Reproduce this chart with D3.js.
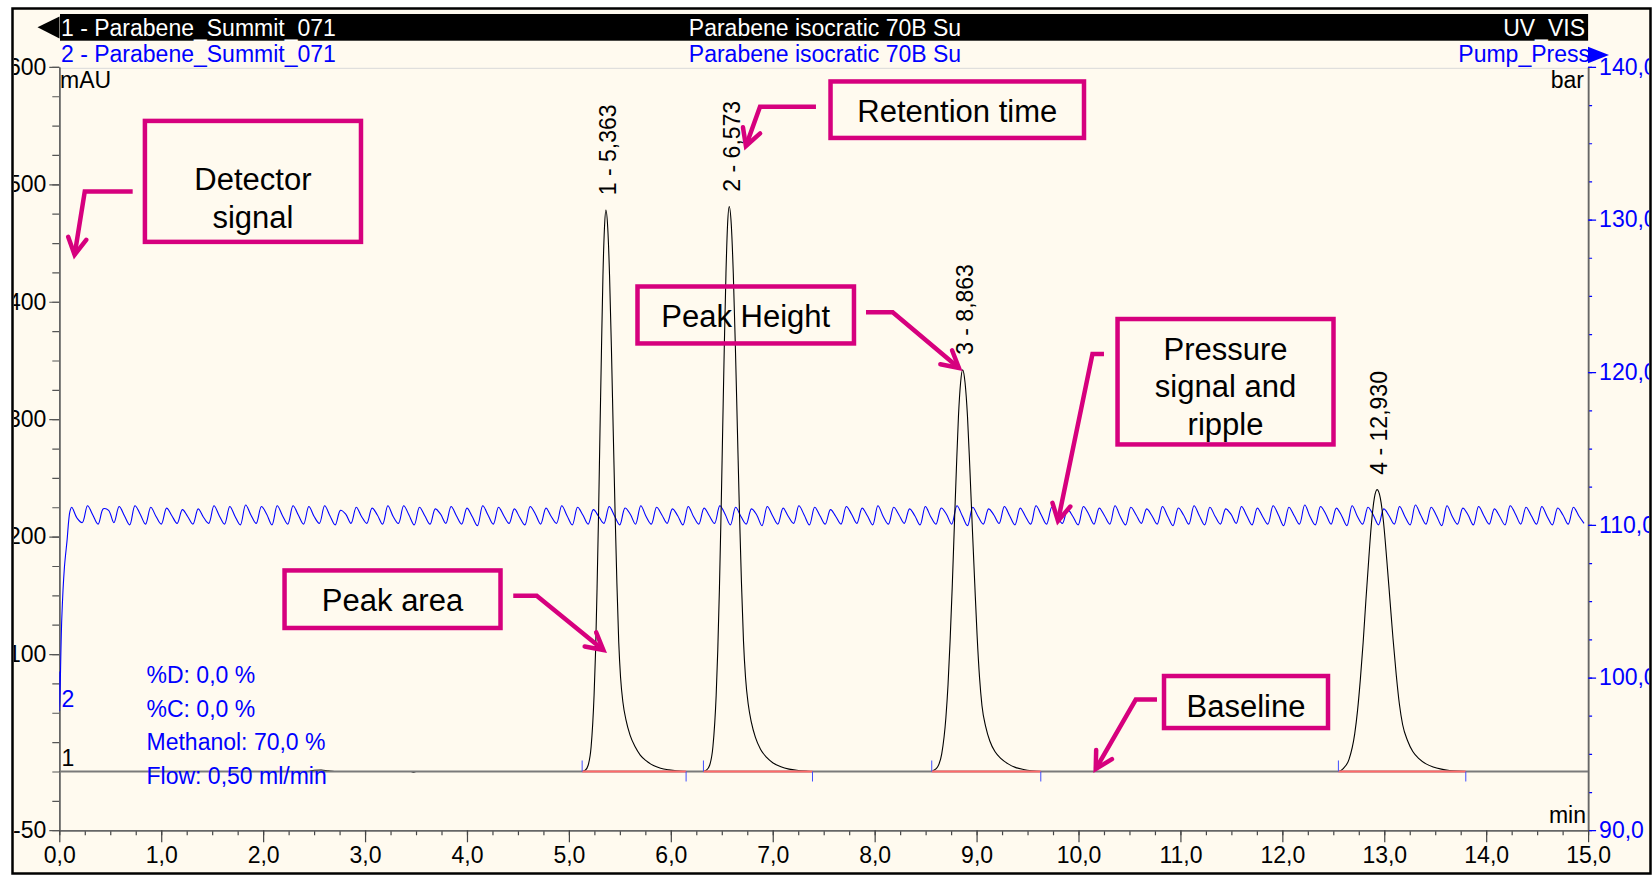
<!DOCTYPE html>
<html>
<head>
<meta charset="utf-8">
<script src="https://cdn.jsdelivr.net/npm/d3@7"></script>
<style>
  body { margin: 0; background: #fff; }
  text { font-family: "Liberation Sans", Arial, Helvetica, sans-serif; }
</style>
</head>
<body>
<svg id="chart" width="1652" height="875"></svg>
<script>
/* ---- data ---- */

// header rows (channel 1 = UV, channel 2 = pump pressure)
var headerLeft  = ["1 - Parabene_Summit_071", "2 - Parabene_Summit_071"];
var headerMid   = ["Parabene isocratic 70B Su", "Parabene isocratic 70B Su"];
var headerRight = ["UV_VIS", "Pump_Press"];

// axis ticks
var timeTicks = [0,1,2,3,4,5,6,7,8,9,10,11,12,13,14,15];
var mAUTicks  = [-50,100,200,300,400,500,600];
var barTicks  = [90,100,110,120,130,140];

// integrated peaks
var peakNo    = [1, 2, 3, 4];
var peakRT    = [5.363, 6.573, 8.863, 12.930];
var peakStart = [5.13, 6.32, 8.56, 12.55];
var peakEnd   = [6.15, 7.39, 9.63, 13.80];

// detector signal, [min, mAU]
var baseTrace = [[0,0],[2.44,0],[2.50,1.0],[2.57,1.3],[2.64,0.5],[2.70,0],[3.45,0],[3.47,-0.7],[3.50,0],[5.10,0]];
var peak1Trace = [[5.13,0],[5.160,1.0],[5.189,5.3],[5.218,21],[5.247,65],[5.262,103],[5.276,155],[5.291,219],[5.305,290],
  [5.320,361],[5.334,422],[5.349,463],[5.363,478],[5.381,463],[5.399,422],[5.417,361],[5.435,290],[5.453,221],[5.471,160],
  [5.489,110],[5.507,80],[5.53,59],[5.56,44],[5.60,31],[5.65,21],[5.70,14],[5.76,9],[5.83,5],[5.90,2.8],[5.98,1.4],[6.06,0.5],[6.15,0]];
var peak2Trace = [[6.32,0],[6.349,1.1],[6.381,5.3],[6.413,21],[6.445,65],[6.461,104],[6.477,156],[6.493,220],[6.509,292],
  [6.525,363],[6.541,424],[6.557,466],[6.573,481],[6.593,466],[6.613,424],[6.633,363],[6.653,292],[6.673,222],[6.693,161],
  [6.713,111],[6.733,80],[6.76,57],[6.79,42],[6.83,29],[6.88,19],[6.94,12],[7.00,7.5],[7.08,4],[7.16,2],[7.25,0.9],[7.33,0.3],[7.39,0]];
var peak3Trace = [[8.56,0],[8.576,0.8],[8.617,3.8],[8.658,15],[8.699,46],[8.720,74],[8.740,111],[8.761,157],[8.781,207],
  [8.802,258],[8.822,302],[8.843,331],[8.863,342],[8.887,331],[8.911,302],[8.934,258],[8.958,208],[8.982,160],[9.005,116],
  [9.029,80],[9.053,56],[9.09,38],[9.13,26],[9.18,17],[9.24,11],[9.31,6.5],[9.38,3.5],[9.46,1.7],[9.54,0.6],[9.63,0]];
var peak4Trace = [[12.55,0],[12.60,2.7],[12.655,10.5],[12.710,32],[12.738,52],[12.765,78],[12.793,110],[12.820,146],[12.848,181],
  [12.875,212],[12.903,233],[12.930,240],[12.961,233],[12.993,212],[13.024,181],[13.055,147],[13.086,113],[13.118,82],[13.149,57],
  [13.180,40],[13.23,26],[13.28,17],[13.34,11],[13.41,6.5],[13.48,3.8],[13.56,2],[13.64,0.9],[13.72,0.3],[13.80,0]];
var endTrace = [[15,0]];

// pump pressure, [min, bar] start-up, then ripple sampled every rippleStep min
var pressureRamp = [[0,100.4],[0.003,97.8],[0.024,103.8],[0.05,107.2],[0.075,108.9],[0.105,110.9]];
var rippleStart = 0.122, rippleStep = 0.0517;
var ripple = [
  111.15,110.45,110.15, 111.25,110.65,110.05, 111.05,110.95,110.15, 111.20,110.60,110.00,
  111.25,110.70,110.05, 111.15,110.55,110.05, 111.10,110.60,110.10, 111.00,110.55,110.05,
  111.05,110.50,110.10, 111.25,110.60,110.05, 111.20,110.55,110.00, 111.30,110.65,110.10,
  111.20,110.70,110.00, 111.25,110.60,110.05, 111.25,110.65,110.05, 111.20,110.55,110.10,
  111.25,110.60,110.00, 110.95,110.70,110.10, 111.15,110.55,110.10, 111.10,110.65,110.05,
  111.25,110.55,110.10, 111.25,110.65,110.00, 111.15,110.60,110.05, 111.05,110.70,110.10,
  111.20,110.60,110.05, 111.10,110.55,109.95, 111.25,110.65,110.05, 111.15,110.60,110.10,
  111.05,110.50,110.00, 111.20,110.70,110.05, 111.10,110.55,110.10, 111.25,110.60,110.00,
  111.15,110.65,110.05, 111.00,110.55,110.10, 111.20,110.60,110.00, 111.10,110.70,110.05,
  111.25,110.55,110.05, 111.15,110.65,110.10, 111.05,110.60,110.00, 111.20,110.55,110.05,
  111.10,110.60,110.10, 111.25,110.70,110.00, 111.15,110.55,110.05, 111.05,110.65,109.95,
  111.20,110.60,110.05, 111.10,110.55,110.10, 111.25,110.65,110.00, 111.15,110.60,110.05,
  111.00,110.55,110.05, 111.20,110.70,110.10, 111.10,110.60,110.00, 111.25,110.55,110.05,
  111.15,110.65,110.10, 111.05,110.60,110.00, 111.20,110.55,110.05, 111.10,110.70,110.05,
  111.25,110.60,109.95, 111.15,110.55,110.05, 111.05,110.65,110.10, 111.20,110.60,110.00,
  111.10,110.55,110.05, 111.25,110.65,110.05, 111.15,110.60,110.10, 111.00,110.55,110.00,
  111.20,110.70,110.05, 111.10,110.60,110.05, 111.25,110.55,110.00, 111.15,110.65,110.10,
  111.05,110.60,110.05, 111.20,110.55,109.95, 111.10,110.65,110.05, 111.25,110.60,110.00,
  111.15,110.55,110.05, 111.05,110.70,110.10, 111.20,110.60,110.00, 111.10,110.55,110.05,
  111.25,110.65,109.95, 111.15,110.60,110.05, 111.30,110.55,110.00, 111.20,110.70,110.05,
  111.10,110.60,109.95, 111.25,110.55,110.05, 111.15,110.65,110.00, 111.05,110.60,110.05,
  111.20,110.55,110.00, 111.30,110.65,110.05, 111.15,110.60,109.95, 111.25,110.55,110.05,
  111.10,110.65,110.00, 111.20,110.60,110.05, 111.05,110.55,110.00, 111.25,110.70,110.05,
  111.15,110.60,110.05, 111.20,110.55,110.00, 111.10,110.65,110.05, 111.15,110.60,110.10
];

// method info printed in the plot
var methodText = ["%D: 0,0 %", "%C: 0,0 %", "Methanol: 70,0 %", "Flow: 0,50 ml/min"];

/* ---- layout ---- */
var W = 1652, H = 875;
var frame = {x0: 12.5, y0: 8.5, x1: 1650.5, y1: 873.5};
var plot = {x0: 59.3, x1: 1588.1, y0: 66.9, y1: 830.2};
var bg = "#fffaef", magenta = "#d6007e", blue = "#0000ff";

// annotation boxes, in data units (min, mAU)
var notes = [
  {lines: ["Detector", "signal"], box: [0.84, 554, 2.96, 451], base: [495, 463], arrow: [[0.72,494],[0.25,494],[0.15,440]]},
  {lines: ["Retention time"], box: [7.567, 587.6, 10.054, 539.5], base: [553.4], arrow: [[7.424,566.1],[6.875,566.1],[6.737,532.6]]},
  {lines: ["Peak Height"], box: [5.673, 413.0, 7.797, 364.5], base: [378.8], arrow: [[7.915,391.0],[8.177,391.0],[8.827,343.6]]},
  {lines: ["Pressure", "signal and", "ripple"], box: [10.383, 385.3, 12.502, 278.5], base: [350.5, 318.5, 286.6], arrow: [[10.25,355.5],[10.137,355.5],[9.799,213.3]]},
  {lines: ["Peak area"], box: [2.21, 171.2, 4.329, 122.2], base: [136.7], arrow: [[4.454,149.7],[4.684,149.7],[5.338,103.5]]},
  {lines: ["Baseline"], box: [10.839, 81.3, 12.448, 37.0], base: [46.8], arrow: [[10.77,61.2],[10.562,61.2],[10.169,2.1]]}
];

var svg = d3.select("#chart");

var x = d3.scaleLinear().domain([0, 15]).range([plot.x0, plot.x1]);
var y = d3.scaleLinear().domain([-50, 600]).range([plot.y1, plot.y0]);
var yP = d3.scaleLinear().domain([90, 140]).range([plot.y1, plot.y0]);
var fmt1 = function(d){ return d3.format(".1f")(d).replace(".", ","); };
var fmt3 = function(d){ return d3.format(".3f")(d).replace(".", ","); };

/* background and frame */
svg.append("rect").attr("width", W).attr("height", H).attr("fill", "#fff");
svg.append("rect")
  .attr("x", frame.x0).attr("y", frame.y0)
  .attr("width", frame.x1 - frame.x0).attr("height", frame.y1 - frame.y0)
  .attr("fill", bg).attr("stroke", "#000").attr("stroke-width", 2.5);

var defs = svg.append("defs");
defs.append("clipPath").attr("id", "clipPlot").append("rect")
  .attr("x", plot.x0).attr("y", 68).attr("width", plot.x1 - plot.x0).attr("height", plot.y1 - 68);
defs.append("clipPath").attr("id", "clipFrame").append("rect")
  .attr("x", frame.x0 + 1.3).attr("y", frame.y0 + 1.3)
  .attr("width", frame.x1 - frame.x0 - 2.6).attr("height", frame.y1 - frame.y0 - 2.6);

/* header */
var head = svg.append("g").style("font-size", "23px");
head.append("rect").attr("x", 60).attr("y", 14).attr("width", plot.x1 - 60).attr("height", 26.7).attr("fill", "#000");
head.append("path").attr("d", "M37.5,27.3L59.5,16.5L59.5,38.5Z").attr("fill", "#000");
head.append("path").attr("d", "M1588,46.7L1609,55L1588,63.3Z").attr("fill", blue);
var rowBase = [36, 62], rowCol = ["#fff", blue];
[0, 1].forEach(function(i){
  head.append("text").attr("x", 61).attr("y", rowBase[i]).attr("fill", rowCol[i]).text(headerLeft[i]);
  head.append("text").attr("x", 825).attr("y", rowBase[i]).attr("fill", rowCol[i]).attr("text-anchor", "middle").text(headerMid[i]);
  head.append("text").attr("x", i ? 1590 : 1585).attr("y", rowBase[i]).attr("fill", rowCol[i]).attr("text-anchor", "end").text(headerRight[i]);
});
svg.append("line").attr("x1", plot.x0).attr("x2", plot.x1).attr("y1", 68.3).attr("y2", 68.3)
  .attr("stroke", "#d9d9d9").attr("stroke-width", 1);

/* axes */
function styleAxis(g, lineCol, textCol){
  g.attr("font-family", null).attr("font-size", null);
  g.selectAll("path.domain").attr("stroke", "#666").attr("stroke-width", 1.5);
  g.selectAll(".tick line").attr("stroke", lineCol).attr("stroke-width", 1.2);
  g.selectAll(".tick text").attr("fill", textCol).style("font-size", "23px");
}

var axes = svg.append("g").attr("clip-path", "url(#clipFrame)");

axes.append("g").attr("transform", "translate(" + plot.x0 + ",0)")
  .call(d3.axisLeft(y).tickValues(d3.range(-50, 601, 25)).tickSize(7).tickSizeOuter(0).tickFormat(""))
  .call(styleAxis, "#555", "#000");
axes.append("g").attr("transform", "translate(" + plot.x0 + ",0)")
  .call(d3.axisLeft(y).tickValues(mAUTicks).tickSize(10).tickSizeOuter(0).tickPadding(3).tickFormat(function(d){ return d; }))
  .call(styleAxis, "#555", "#000");

axes.append("g").attr("transform", "translate(" + plot.x1 + ",0)")
  .call(d3.axisRight(yP).tickValues(d3.range(90, 140.1, 2.5)).tickSize(4).tickSizeOuter(0).tickFormat(""))
  .call(styleAxis, blue, blue);
axes.append("g").attr("transform", "translate(" + plot.x1 + ",0)")
  .call(d3.axisRight(yP).tickValues(barTicks).tickSize(8).tickSizeOuter(0).tickPadding(3).tickFormat(fmt1))
  .call(styleAxis, blue, blue);

axes.append("g").attr("transform", "translate(0," + plot.y1 + ")")
  .call(d3.axisBottom(x).tickValues(d3.range(0, 15.01, 0.25)).tickSize(5).tickSizeOuter(0).tickFormat(""))
  .call(styleAxis, "#444", "#000");
axes.append("g").attr("transform", "translate(0," + plot.y1 + ")")
  .call(d3.axisBottom(x).tickValues(timeTicks).tickSize(12).tickSizeOuter(0).tickPadding(4).tickFormat(fmt1))
  .call(styleAxis, "#444", "#000");

var units = svg.append("g").style("font-size", "23px");
units.append("text").attr("x", 60).attr("y", 88).text("mAU");
units.append("text").attr("x", 1584).attr("y", 88).attr("text-anchor", "end").text("bar");
units.append("text").attr("x", 1586).attr("y", 823).attr("text-anchor", "end").text("min");

/* traces */
var traces = svg.append("g").attr("clip-path", "url(#clipPlot)");

var pressure = pressureRamp.concat(ripple.map(function(v, i){ return [rippleStart + i * rippleStep, v]; }));
traces.append("path").datum(pressure)
  .attr("fill", "none").attr("stroke", blue).attr("stroke-width", 1.1)
  .attr("d", d3.line().x(function(d){ return x(d[0]); }).y(function(d){ return yP(d[1]); }).curve(d3.curveCatmullRom));

var signal = baseTrace.concat(peak1Trace, peak2Trace, peak3Trace, peak4Trace, endTrace);
traces.append("path").datum(signal)
  .attr("fill", "none").attr("stroke", "#000").attr("stroke-width", 1.1)
  .attr("d", d3.line().x(function(d){ return x(d[0]); }).y(function(d){ return y(d[1]); }).curve(d3.curveMonotoneX));

// zero line and integration baselines
traces.append("line").attr("x1", x(0)).attr("x2", x(15)).attr("y1", y(0)).attr("y2", y(0))
  .attr("stroke", "#7a7a7a").attr("stroke-width", 2);
traces.selectAll(".intBase").data(peakNo).enter().append("line")
  .attr("x1", function(d, i){ return x(peakStart[i]); }).attr("x2", function(d, i){ return x(peakEnd[i]); })
  .attr("y1", y(0)).attr("y2", y(0))
  .attr("stroke", "#ff6a6a").attr("stroke-width", 2);
traces.selectAll(".startTick").data(peakNo).enter().append("line")
  .attr("x1", function(d, i){ return x(peakStart[i]); }).attr("x2", function(d, i){ return x(peakStart[i]); })
  .attr("y1", y(0) - 11).attr("y2", y(0))
  .attr("stroke", "#3f4dff").attr("stroke-width", 1);
traces.selectAll(".endTick").data(peakNo).enter().append("line")
  .attr("x1", function(d, i){ return x(peakEnd[i]); }).attr("x2", function(d, i){ return x(peakEnd[i]); })
  .attr("y1", y(0)).attr("y2", y(0) + 10)
  .attr("stroke", "#3f4dff").attr("stroke-width", 1);

// peak labels
var apex = [peak1Trace, peak2Trace, peak3Trace, peak4Trace].map(function(t){ return d3.max(t, function(d){ return d[1]; }); });
svg.append("g").selectAll("text").data(peakNo).enter().append("text")
  .attr("transform", function(d, i){ return "translate(" + x(peakRT[i]) + "," + (y(apex[i]) - 15) + ") rotate(-90)"; })
  .attr("dy", "0.45em")
  .style("font-size", "23px")
  .text(function(d, i){ return d + " - " + fmt3(peakRT[i]); });

// channel numbers and method text
svg.append("text").attr("x", 61.5).attr("y", 707).attr("fill", blue).style("font-size", "23px").text("2");
svg.append("text").attr("x", 61.5).attr("y", 765.5).attr("fill", "#000").style("font-size", "23px").text("1");
svg.append("g").selectAll("text").data(methodText).enter().append("text")
  .attr("x", 146.5).attr("y", function(d, i){ return 682.7 + i * 33.8; })
  .attr("fill", blue).style("font-size", "23px")
  .text(function(d){ return d; });

/* annotations */
var ann = svg.append("g");
notes.forEach(function(n){
  var bx0 = x(n.box[0]), bx1 = x(n.box[2]), by0 = y(n.box[1]), by1 = y(n.box[3]);
  ann.append("rect").attr("x", bx0).attr("y", by0).attr("width", bx1 - bx0).attr("height", by1 - by0)
    .attr("fill", "none").attr("stroke", magenta).attr("stroke-width", 4.5);
  n.lines.forEach(function(s, k){
    ann.append("text").attr("x", (bx0 + bx1) / 2).attr("y", y(n.base[k]))
      .attr("text-anchor", "middle").style("font-size", "31px").attr("fill", "#000").text(s);
  });
  var pts = n.arrow.map(function(p){ return [x(p[0]), y(p[1])]; });
  ann.append("path").attr("d", d3.line()(pts))
    .attr("fill", "none").attr("stroke", magenta).attr("stroke-width", 4.5).attr("stroke-linejoin", "miter");
  var tip = pts[pts.length - 1], prev = pts[pts.length - 2];
  var ang = Math.atan2(tip[1] - prev[1], tip[0] - prev[0]);
  var L = 19, a = 0.5;
  var head = [[tip[0] - L * Math.cos(ang - a), tip[1] - L * Math.sin(ang - a)], tip,
              [tip[0] - L * Math.cos(ang + a), tip[1] - L * Math.sin(ang + a)]];
  ann.append("path").attr("d", d3.line()(head))
    .attr("fill", "none").attr("stroke", magenta).attr("stroke-width", 4.5)
    .attr("stroke-linejoin", "miter").attr("stroke-linecap", "round");
});
</script>
</body>
</html>
